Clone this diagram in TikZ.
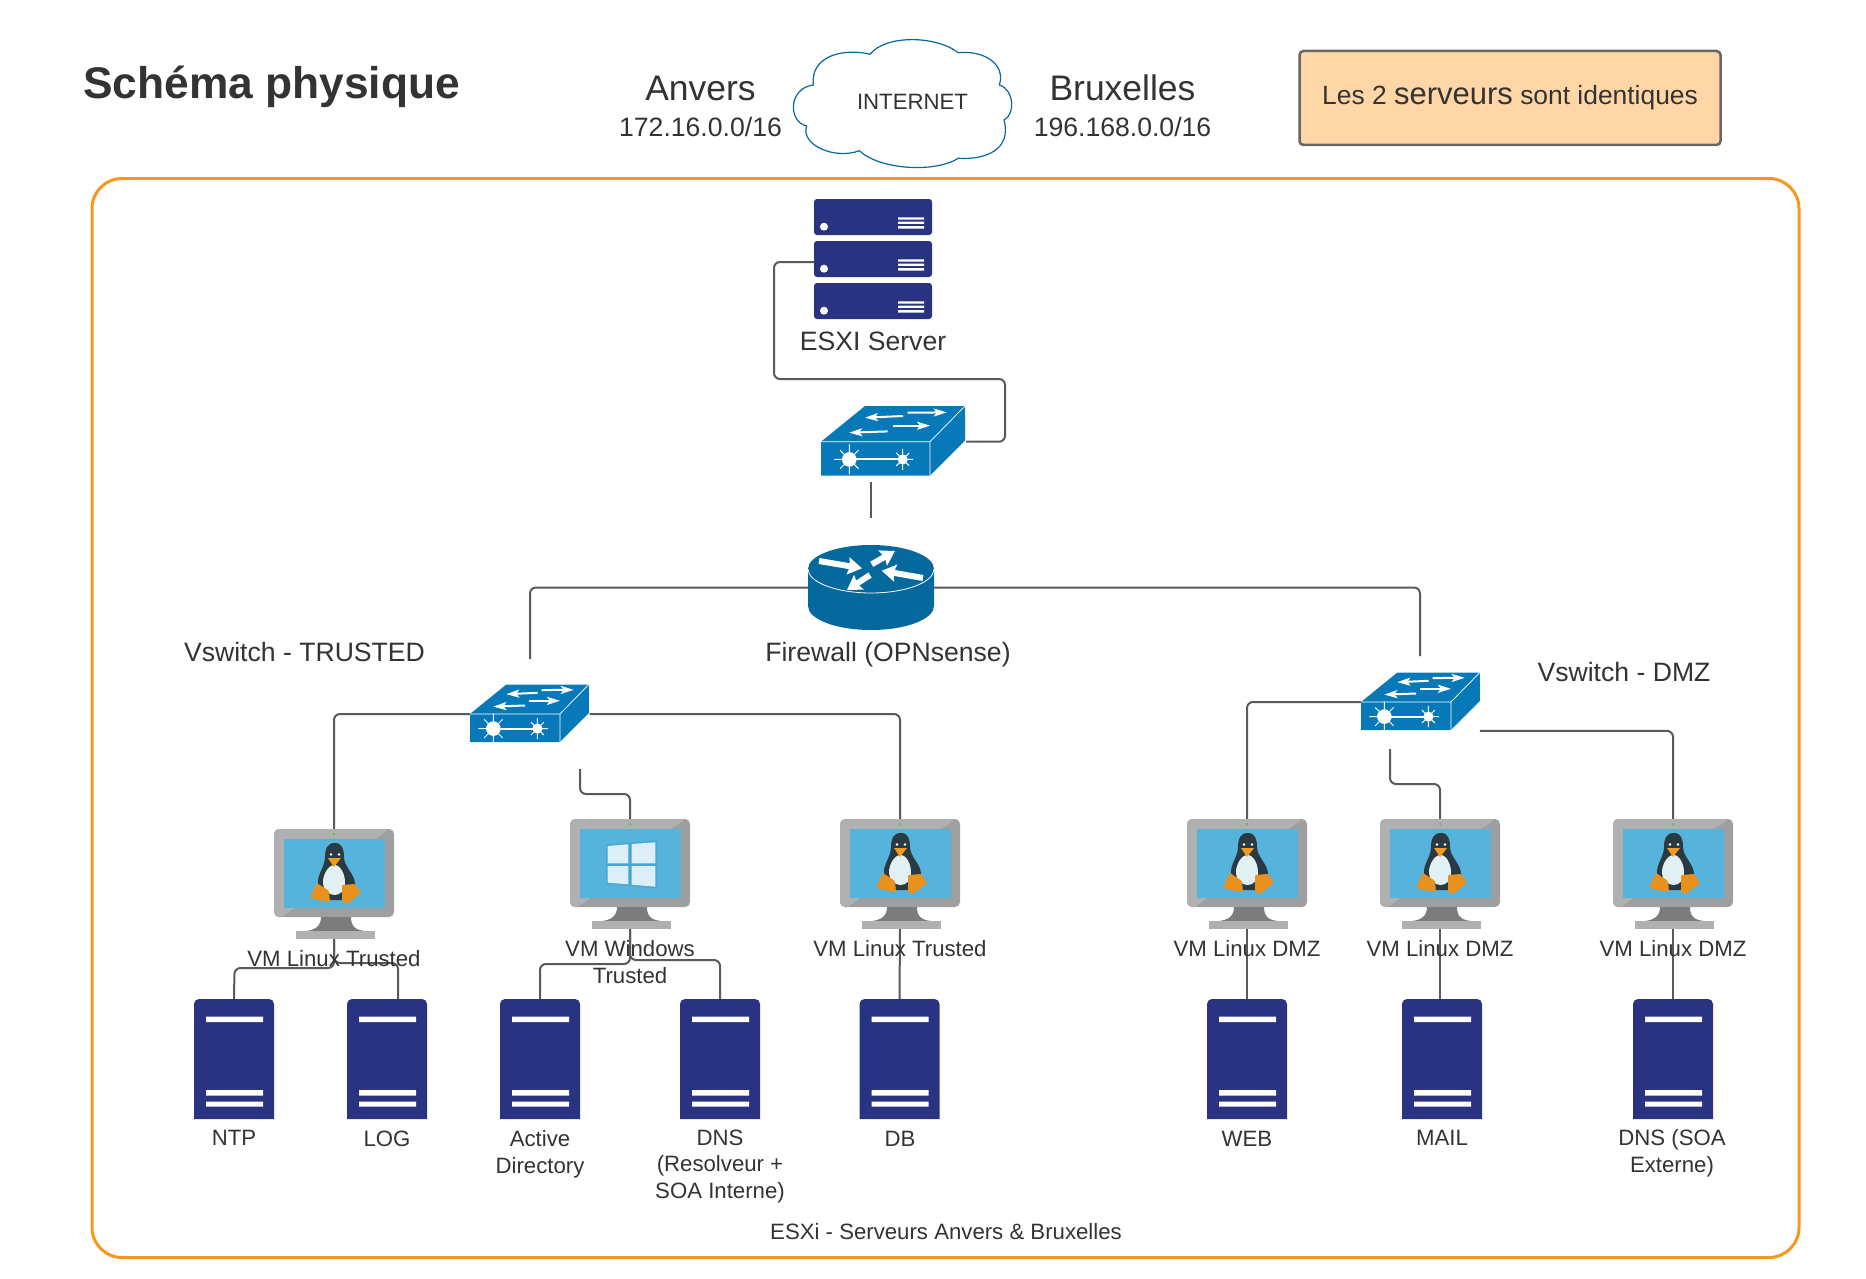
\documentclass[tikz,border=0pt]{standalone}
\usepackage{xcolor}
\usepackage{fontspec}
\setmainfont{Liberation Sans}
\usetikzlibrary{arrows.meta,positioning}
\definecolor{dk}{HTML}{333333}
\definecolor{wire}{HTML}{5A5A5A}
\definecolor{frameline}{HTML}{F7981D}
\definecolor{notefill}{HTML}{FFD7A6}
\definecolor{noteline}{HTML}{666666}
\definecolor{navy}{HTML}{2A3282}
\definecolor{swblue}{HTML}{0879B8}
\definecolor{fwblue}{HTML}{05699D}
\definecolor{monlight}{HTML}{B0B0B0}
\definecolor{mondark}{HTML}{9D9FA0}
\definecolor{monneck}{HTML}{7C7C7C}
\definecolor{screen}{HTML}{56B3DB}
\definecolor{tuxdark}{HTML}{2A3A42}
\definecolor{tuxbelly}{HTML}{E2F0F4}
\definecolor{tuxfoot}{HTML}{E8911F}
\definecolor{tuxbeak}{HTML}{F59A1B}
\definecolor{winpane}{HTML}{DCEEF7}
\definecolor{winedge}{HTML}{48A5D5}
\tikzset{
  pics/sunicon/.style={code={
    \fill[white] (0,0) circle[radius=7.3];
    \draw[white,line width=1pt] (0:7) -- (0:15) (45:7) -- (45:13) (90:7) -- (90:15) (135:7) -- (135:13)
      (180:7) -- (180:15) (225:7) -- (225:13) (270:7) -- (270:15) (315:7) -- (315:13);
  }},
  pics/switchicon/.style={code={
    \fill[swblue] (0,0) -- (44,-35.7) -- (144,-35.7) -- (144,-1) -- (109,34) -- (0,34) -- cycle;
    \draw[white,line width=0.7pt] (0,0) -- (109,0) -- (144,-35.7) (109,0) -- (109,34);
    \draw[swarrow] (82,-25.7) -- (44,-24);
    \draw[swarrow] (86.7,-29) -- (125.7,-29.3);
    \draw[swarrow] (66.7,-10.3) -- (28.3,-9);
    \draw[swarrow] (71.7,-16) -- (109,-16);
    \draw[white,line width=2pt] (28.3,17.7) -- (81.7,17.7);
    \pic at (28.3,17.7) {sunicon};
    \pic[scale=0.7] at (81.7,17.7) {sunicon};
    \coordinate (-west) at (0,0);
    \coordinate (-east) at (145,0);
    \coordinate (-south east) at (144,35);
  }},
  pics/routericon/.style={code={
    \fill[fwblue] (-63,0) -- (-63,37) arc[start angle=180,end angle=0,x radius=63,y radius=24] -- (63,0) -- cycle;
    \fill[fwblue] (0,0) ellipse[x radius=63,y radius=24];
    \draw[white,line width=0.8pt] (-63,0) arc[start angle=180,end angle=0,x radius=63,y radius=24];
    \draw[rtarrow] (-52,-8) -- (-9,-0.7);
    \draw[rtarrow] (0.7,-4.7) -- (24,-18);
    \draw[rtarrow] (52,9) -- (10.7,1.7);
    \draw[rtarrow] (-1,6) -- (-24,21);
    \node[inner sep=0pt,minimum width=126pt,minimum height=85pt] (-box) at (0,18.5) {};
  }},
  pics/rackicon/.style={code={
    \fill[navy,rounded corners=3pt] (-59,-18) rectangle (59,18);
    \fill[white] (-49,9.7) circle[radius=4];
    \fill[white] (25,0.3) rectangle (51,2.7) (25,4.5) rectangle (51,6.9) (25,9.1) rectangle (51,11.5);
    \node[inner sep=0pt,minimum width=118pt,minimum height=36pt] (-box) at (0,0) {};
  }},
  pics/towericon/.style={code={
    \fill[navy] (-40,60) -- (-40,-55) arc[start angle=180,end angle=270,radius=5] -- (35,-60) arc[start angle=270,end angle=360,radius=5] -- (40,60) -- cycle;
    \fill[white] (-28,-42.3) rectangle (29,-37) (-28,31) rectangle (29,36.7) (-28,42.7) rectangle (29,47.7);
    \node[inner sep=0pt,minimum width=80pt,minimum height=120pt] (-box) at (0,0) {};
  }},
  pics/monitoricon/.style={code={
    \fill[mondark,rounded corners=5pt] (-60,0) rectangle (60,88);
    \fill[monlight,rounded corners=5pt] (-52,88) -- (-60,88) -- (-60,0) -- (56,0) [sharp corners] -- (41,10) -- (-40,79) -- cycle;
    \fill[screen] (-50.3,10) rectangle (50.7,79);
    \fill[monneck] (-13,88) .. controls (-13,98) and (-20,101) .. (-28,102) -- (31,102) .. controls (22,101) and (17,98) .. (17,88) -- cycle;
    \fill[monlight] (-38,102) rectangle (41,110);
    \fill[green!70!yellow!80!black] (0,5) circle[radius=1];
    \node[inner sep=0pt,minimum width=120pt,minimum height=110pt] (-box) at (0,55) {};
  }},
  pics/linuxvm/.style={code={
    \pic {monitoricon};
    \fill[tuxdark] (1,14) .. controls (-7,14) and (-9,20) .. (-9,28) .. controls (-9,38) and (-17,45) .. (-16,55)
      .. controls (-12,62) and (-8,70) .. (-4,71) -- (10,71) .. controls (14,66) and (21,62) .. (21,55)
      .. controls (21,45) and (10,38) .. (10,28) .. controls (10,20) and (8,14) .. (1,14) -- cycle;
    \fill[tuxbelly] (0.5,36) .. controls (-6,36) and (-11,46) .. (-11,53) .. controls (-11,62) and (-4,66) .. (0.5,66)
      .. controls (6,66) and (11,62) .. (11,53) .. controls (11,46) and (7,36) .. (0.5,36) -- cycle;
    \fill[white] (-3,25.5) circle[radius=1.4] (5,25.5) circle[radius=1.4];
    \fill[tuxbeak] (-6,29) -- (7,29) -- (0,38) -- cycle;
    \fill[tuxfoot,rounded corners=1pt] (-24,68) -- (-17,54) -- (-5,62) -- (-4,73) -- (-17,71) -- cycle;
    \fill[tuxfoot,rounded corners=1pt] (8,73) -- (8,56) -- (21,55) -- (27,64) -- (13,75) -- cycle;
    \node[inner sep=0pt,minimum width=120pt,minimum height=110pt] (-box) at (0,55) {};
  }},
  pics/windowsvm/.style={code={
    \pic {monitoricon};
    \fill[winedge] (-24,25.5) -- (27,21.5) -- (27,69.5) -- (-24,65) -- cycle;
    \fill[winpane] (-22.3,27) -- (-1.7,25.3) -- (-1.7,44.3) -- (-22.3,44.3) -- cycle;
    \fill[winpane] (1.7,25) -- (25.3,23.3) -- (25.3,44.3) -- (1.7,44.3) -- cycle;
    \fill[winpane] (-22.3,47) -- (-1.7,47) -- (-1.7,65.3) -- (-22.3,63.7) -- cycle;
    \fill[winpane] (1.7,47) -- (25.3,47) -- (25.3,67.7) -- (1.7,65.7) -- cycle;
    \node[inner sep=0pt,minimum width=120pt,minimum height=110pt] (-box) at (0,55) {};
  }}
}
\begin{document}
\begin{tikzpicture}[
    x=1pt, y=-1pt,
    link/.style={draw=wire, line width=2pt, rounded corners=6pt},
    swarrow/.style={white, line width=2pt, -{Stealth[length=13pt,width=8pt,inset=3pt]}},
    rtarrow/.style={white, line width=6pt, -{Stealth[length=14pt,width=17pt,inset=2pt]}},
    lbl/.style={font=\fontsize{22.2}{26.6}\selectfont, text=dk, align=center, inner sep=0pt},
    biglbl/.style={font=\fontsize{26.6}{30}\selectfont, text=dk, align=center, inner sep=0pt},
    city/.style={font=\fontsize{35.5}{40}\selectfont, text=dk, inner sep=0pt}
]
\useasboundingbox (0,0) rectangle (1866,1279);

\node[font=\bfseries\fontsize{44.3}{50}\selectfont, text=dk, inner sep=0pt, anchor=west] (title) at (83,87) {Schéma physique};
\node[city] (anvers) at (700.5,88) {Anvers};
\node[biglbl] (anversnet) at (700.5,127) {172.16.0.0/16};
\node[city] (bruxelles) at (1122.5,88) {Bruxelles};
\node[biglbl] (bruxellesnet) at (1122.5,127) {196.168.0.0/16};

% cloud
\draw[fwblue, line width=1.2pt, fill=white] (870,54.3) .. controls (885,35) and (935,35) .. (958.3,52.7)
  .. controls (985,50) and (1006,65) .. (999.3,85) .. controls (1015,90) and (1015,115) .. (1004,120)
  .. controls (1012,150) and (985,160) .. (958.3,158.3) .. controls (935,173) and (880,170) .. (859.3,150.7)
  .. controls (835,160) and (800,145) .. (806.7,126) .. controls (788,122) and (788,88) .. (813.3,85)
  .. controls (810,55) and (845,48) .. (870,54.3) -- cycle;
\node[lbl] (internet) at (912.5,102) {INTERNET};

\node[fill=notefill, draw=noteline, line width=2.5pt, rounded corners=4pt, minimum width=421pt, minimum height=94pt, text=dk, inner sep=0pt, font=\fontsize{26.4}{30}\selectfont] (note) at (1510,98) {Les 2 {\fontsize{31}{30}\selectfont serveurs} sont identiques};

\node[draw=frameline, line width=3pt, rounded corners=30pt, minimum width=1707pt, minimum height=1079pt, inner sep=0pt] (site) at (945.5,718) {};
\node[lbl] (sitename) at (946,1232) {ESXi - Serveurs Anvers \& Bruxelles};

% devices
\pic (rackA) at (873,217) {rackicon};
\pic (rackB) at (873,259) {rackicon};
\pic (rackC) at (873,301) {rackicon};
\node[biglbl] (esxi) at (873,341) {ESXI Server};
\pic (swTop) at (821,441.7) {switchicon};
\pic (fwall) at (871,569) {routericon};
\node[biglbl] (fwname) at (888,655) {Firewall (OPNsense)};
\pic[scale=0.825] (swTrusted) at (470,714) {switchicon};
\node[biglbl] (trustedname) at (304.5,652) {Vswitch - TRUSTED};
\pic[scale=0.825] (swDmz) at (1361,702) {switchicon};
\node[biglbl] (dmzname) at (1624,672) {Vswitch - DMZ};

\pic (vmNtp) at (334,829) {linuxvm};
\pic (vmWin) at (630,819) {windowsvm};
\pic (vmDb) at (900,819) {linuxvm};
\pic (vmWeb) at (1247,819) {linuxvm};
\pic (vmMail) at (1440,819) {linuxvm};
\pic (vmSoa) at (1673,819) {linuxvm};

\pic (ntp) at (234,1059) {towericon};
\pic (log) at (387,1059) {towericon};
\pic (ad) at (540,1059) {towericon};
\pic (dns) at (720,1059) {towericon};
\pic (db) at (899.5,1059) {towericon};
\pic (web) at (1247,1059) {towericon};
\pic (mail) at (1442,1059) {towericon};
\pic (soa) at (1673,1059) {towericon};

% free ends and bends
\coordinate (rackOut) at (814,262);
\coordinate (topOut) at (870.7,482);
\coordinate (fwIn) at (870.7,518);
\coordinate (trustedIn) at (530,659);
\coordinate (dmzIn) at (1420,656);
\coordinate (winOut) at (580,769);
\coordinate (winBend) at (630,794);
\coordinate (mailOut) at (1390,749);
\coordinate (mailBend) at (1440,784);
\coordinate (espBend) at (774,379);
\coordinate (espRight) at (1005,379);
\coordinate (ntpBend) at (234.5,968);
\coordinate (logBend) at (398,963);
\coordinate (logIn) at (398,999);
\coordinate (adBend) at (540,964);
\coordinate (dnsBend) at (720,960);

% connectors
\draw[link] (rackOut) -| (espBend) -- (espRight) |- (swTop-east);
\draw[link] (topOut) -- (fwIn);
\draw[link] (fwall-box.west) -| (trustedIn);
\draw[link] (fwall-box.east) -| (dmzIn);
\draw[link] (swTrusted-west) -| (vmNtp-box.north);
\draw[link] (swTrusted-east) -| (vmDb-box.north);
\draw[link] (winOut) |- (winBend) -- (vmWin-box.north);
\draw[link] (swDmz-west) -| (vmWeb-box.north);
\draw[link] (mailOut) |- (mailBend) -- (vmMail-box.north);
\draw[link] (swDmz-south east) -| (vmSoa-box.north);
\draw[link] (vmNtp-box.south) |- (ntpBend) -- (ntp-box.north);
\draw[link] (vmNtp-box.south) |- (logBend) -- (logIn);
\draw[link] (vmWin-box.south) |- (adBend) -- (ad-box.north);
\draw[link] (vmWin-box.south) |- (dnsBend) -- (dns-box.north);
\draw[link] (vmDb-box.south) -- (db-box.north);
\draw[link] (vmWeb-box.south) -- (web-box.north);
\draw[link] (vmMail-box.south) -- (vmMail-box.south |- mail-box.north);
\draw[link] (vmSoa-box.south) -- (soa-box.north);

% labels
\node[lbl] (vmNtpName) at (334,958.5) {VM Linux Trusted};
\node[lbl] (vmWinName) at (630,962) {VM Windows\\Trusted};
\node[lbl] (vmDbName) at (900,948.5) {VM Linux Trusted};
\node[lbl] (vmWebName) at (1247,948.5) {VM Linux DMZ};
\node[lbl] (vmMailName) at (1440,948.5) {VM Linux DMZ};
\node[lbl] (vmSoaName) at (1673,948.5) {VM Linux DMZ};
\node[lbl] (ntpName) at (234,1138) {NTP};
\node[lbl] (logName) at (387,1138.5) {LOG};
\node[lbl] (adName) at (540,1154) {Active\\Directory};
\node[lbl] (dnsName) at (720,1166.5) {DNS\\(Resolveur +\\SOA Interne)};
\node[lbl] (dbName) at (900,1138.5) {DB};
\node[lbl] (webName) at (1247,1138.5) {WEB};
\node[lbl] (mailName) at (1442,1138) {MAIL};
\node[lbl] (soaName) at (1672,1153) {DNS (SOA\\Externe)};
\end{tikzpicture}
\end{document}
